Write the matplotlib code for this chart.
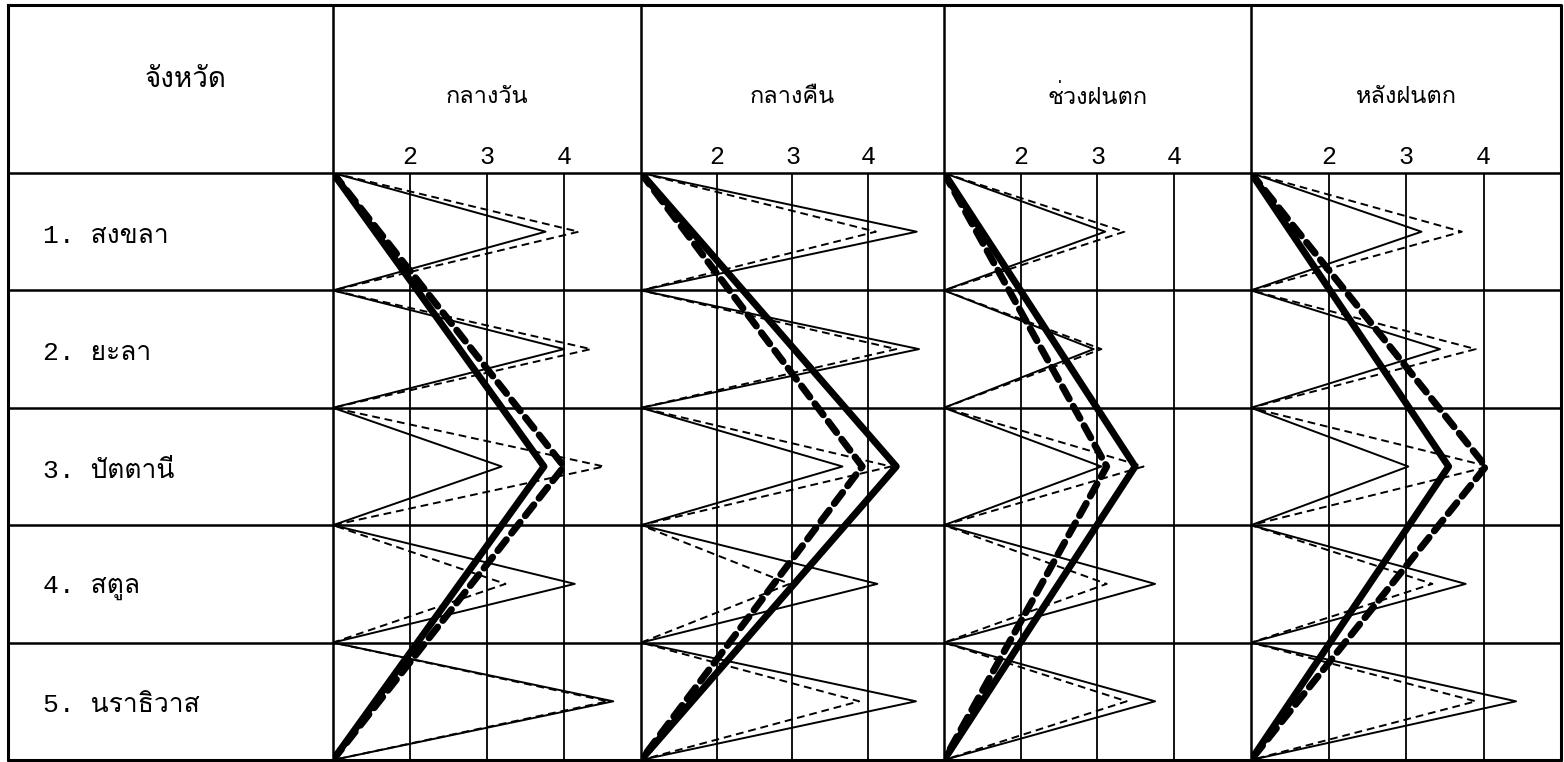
import numpy as np
from matplotlib import pyplot as plt
from matplotlib import font_manager as fm
from matplotlib.ft2font import FT2Font

# ค่าที่อ่านจากรูป (แกน 1-5)
provinces = ['1. สงขลา', '2. ยะลา', '3. ปัตตานี', '4. สตูล', '5. นราธิวาส']
periods = ['กลางวัน', 'กลางคืน', 'ช่วงฝนตก', 'หลังฝนตก']
ticks = [2, 3, 4]

thin_solid = [
    [3.76, 4.00, 3.19, 4.14, 4.64],
    [4.64, 4.67, 3.66, 4.12, 4.63],
    [3.10, 2.95, 3.05, 3.75, 3.75],
    [3.20, 3.44, 3.03, 3.77, 4.42],
]
thin_dash = [
    [4.19, 4.35, 4.52, 3.24, 4.57],
    [4.10, 4.37, 4.30, 2.96, 3.88],
    [3.35, 3.05, 3.60, 3.12, 3.38],
    [3.72, 3.90, 4.07, 3.34, 3.90],
]
thick_solid = [3.74, 4.37, 3.49, 3.55]
thick_dash = [4.00, 3.92, 3.12, 4.03]


def thai_font():
    for path in sorted(fm.findSystemFonts()):
        try:
            if 0x0E01 in FT2Font(path).get_charmap():
                fm.fontManager.addfont(path)
                return fm.FontProperties(fname=path).get_name()
        except Exception:
            pass
    return 'DejaVu Sans'


TH = thai_font()
fam_th = [TH, 'DejaVu Sans']
fam_num = ['Liberation Mono', TH, 'DejaVu Sans']

W, H = 1564, 762
fig = plt.figure(figsize=(W / 100, H / 100), dpi=100)
fig.patch.set_facecolor('white')

top, bottom = 173, 760
left, right = 8, 1561
cols = [333, 641, 944, 1251, 1561]
row_h = (bottom - top) / 5

# กรอบตาราง
bg = fig.add_axes([0, 0, 1, 1])
bg.set_xlim(0, W)
bg.set_ylim(H, 0)
bg.axis('off')
bg.plot([left, right, right, left, left], [5, 5, bottom, bottom, 5], color='black', lw=2.2)
for x in cols[:-1]:
    bg.plot([x, x], [5, bottom], color='black', lw=1.8)
for k in range(6):
    y = top + k * row_h
    bg.plot([left, right], [y, y], color='black', lw=1.8)

bg.text(186, 80, 'จังหวัด', family=fam_th, fontsize=20, ha='center', va='center')
for i, p in enumerate(provinces):
    bg.text(43, top + (i + 0.5) * row_h + 4, p, family=fam_num, fontsize=19,
            ha='left', va='center')

# แต่ละช่วงเวลา
y_thin = np.arange(11) / 2
y_thick = [0, 2.5, 5]
for j in range(4):
    x0, x1 = cols[j], cols[j + 1]
    ax = fig.add_axes([x0 / W, (H - bottom) / H, (x1 - x0) / W, (bottom - top) / H])
    ax.set_facecolor('none')
    ax.set_xlim(1, 5)
    ax.set_ylim(5, 0)
    for s in ax.spines.values():
        s.set_visible(False)
    ax.xaxis.tick_top()
    ax.set_xticks(ticks)
    ax.set_xticklabels([str(t) for t in ticks], family=fam_num, fontsize=18)
    ax.tick_params(axis='x', length=0, pad=3)
    ax.set_yticks([])
    ax.grid(axis='x', color='black', lw=1.3)

    xs = np.ones(11)
    xs[1::2] = thin_solid[j]
    ax.plot(xs, y_thin, color='black', lw=1.4, zorder=3)
    xd = np.ones(11)
    xd[1::2] = thin_dash[j]
    ax.plot(xd, y_thin, color='black', lw=1.4, ls=(0, (4, 2.5)), zorder=3)

    ax.plot([1, thick_solid[j], 1], y_thick, color='black', lw=5, zorder=4,
            solid_capstyle='round')
    ax.plot([1, thick_dash[j], 1], y_thick, color='black', lw=5, zorder=4,
            ls=(0, (2.0, 1.2)), dash_capstyle='round')

    ax.text(0.5, 1 + (top - 97) / (bottom - top), periods[j], transform=ax.transAxes,
            family=fam_th, fontsize=17, ha='center', va='center')

plt.savefig('out.png', dpi=100)
